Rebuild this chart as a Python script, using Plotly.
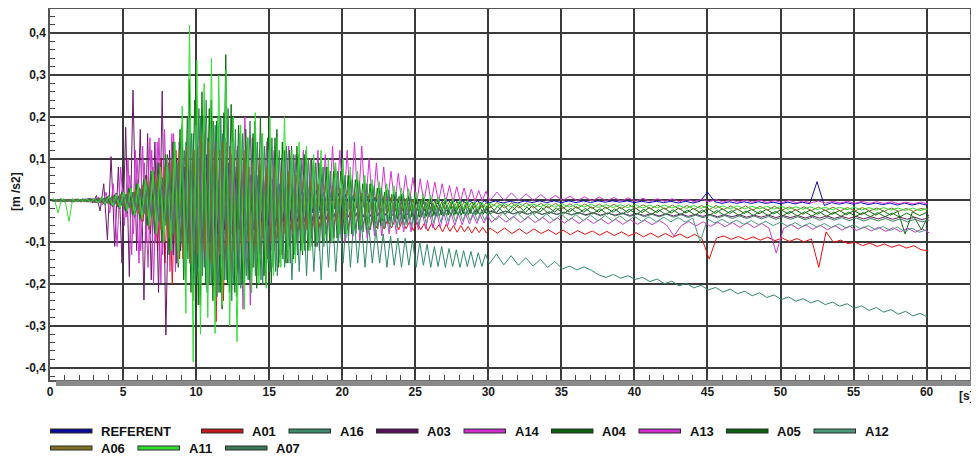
import numpy as np
import plotly.graph_objects as go

# sampling grid of the recorded traces [s]
t = np.concatenate([np.arange(0, 30, 0.25), np.arange(30, 60.001, 0.5)])
# start-of-sampling offset of each recorder [s]
sample_offset = [0.0, 0.12, 0.06, 0.18, 0.09, 0.03, 0.21, 0.15, 0.0, 0.1, 0.05, 0.19]

referent = [
    0, 0.003, -0.002, 0.004, -0.003, 0.002, -0.004, 0.003, -0.002, 0.004,
    -0.003, 0.005, -0.004, 0.006, -0.005, 0.008, -0.006, 0.01, -0.008, 0.012,
    -0.01, 0.015, -0.012, 0.02, -0.018, 0.025, -0.02, 0.03, -0.025, 0.035,
    -0.03, 0.04, -0.035, 0.05, -0.045, 0.06, -0.05, 0.08, -0.07, 0.09,
    -0.08, 0.1, -0.09, 0.11, -0.1, 0.09, -0.11, 0.1, -0.08, 0.09,
    -0.09, 0.08, -0.07, 0.07, -0.08, 0.06, -0.07, 0.06, -0.05, 0.05,
    -0.06, 0.05, -0.05, 0.04, -0.05, 0.04, -0.04, 0.035, -0.04, 0.03,
    -0.035, 0.03, -0.03, 0.025, -0.03, 0.02, -0.025, 0.02, -0.02, 0.018,
    -0.022, 0.015, -0.02, 0.012, -0.018, 0.01, -0.016, 0.01, -0.014, 0.008,
    -0.014, 0.006, -0.012, 0.006, -0.012, 0.004, -0.011, 0.004, -0.01, 0.003,
    -0.01, 0.002, -0.009, 0.002, -0.009, 0.001, -0.008, 0.001, -0.008, 0.0,
    -0.008, 0.0, -0.007, -0.001, -0.007, -0.001, -0.007, -0.001, -0.006, -0.001,
    -0.006, -0.001, -0.006, -0.002, -0.006, -0.001, -0.005, -0.001, -0.005, -0.001,
    -0.005, -0.001, -0.005, -0.001, -0.005, -0.001, -0.004, -0.001, -0.004, -0.001,
    -0.005, -0.002, -0.005, -0.002, -0.005, -0.002, -0.006, -0.002, -0.006, -0.002,
    0.02, -0.003, -0.007, -0.003, -0.007, -0.003, -0.007, -0.003, -0.007, -0.004,
    -0.008, -0.004, -0.008, -0.004, -0.008, 0.045, -0.012, -0.005, -0.009, -0.005,
    -0.009, -0.005, -0.01, -0.006, -0.01, -0.006, -0.011, -0.006, -0.011, -0.007,
    -0.011,
]

a01 = [
    0, -0.002, 0.002, -0.003, 0.002, -0.002, 0.003, -0.003, 0.002, -0.003,
    0.003, -0.004, 0.004, -0.005, 0.005, -0.006, 0.006, -0.008, 0.008, -0.01,
    0.01, -0.015, 0.02, -0.03, 0.03, -0.05, 0.06, -0.08, 0.07, -0.12,
    0.1, -0.15, 0.09, -0.2, 0.12, -0.14, 0.08, -0.12, 0.1, -0.15,
    0.13, -0.18, 0.16, -0.2, 0.19, -0.29, 0.12, -0.24, 0.14, -0.2,
    0.1, -0.17, 0.09, -0.15, 0.08, -0.16, 0.07, -0.13, 0.06, -0.14,
    0.05, -0.12, 0.04, -0.13, 0.03, -0.11, 0.02, -0.1, 0.01, -0.1,
    0.0, -0.09, -0.01, -0.08, -0.01, -0.08, -0.02, -0.075, -0.02, -0.07,
    -0.02, -0.07, -0.025, -0.068, -0.03, -0.065, -0.035, -0.07, -0.04, -0.066,
    -0.042, -0.068, -0.045, -0.066, -0.046, -0.07, -0.048, -0.068, -0.05, -0.072,
    -0.052, -0.07, -0.055, -0.073, -0.054, -0.071, -0.058, -0.075, -0.057, -0.074,
    -0.06, -0.076, -0.06, -0.075, -0.062, -0.078, -0.063, -0.077, -0.064, -0.078,
    -0.066, -0.078, -0.066, -0.079, -0.068, -0.08, -0.068, -0.079, -0.07, -0.081,
    -0.071, -0.082, -0.072, -0.081, -0.073, -0.083, -0.074, -0.084, -0.075, -0.085,
    -0.077, -0.087, -0.078, -0.088, -0.079, -0.088, -0.08, -0.09, -0.081, -0.091,
    -0.14, -0.09, -0.085, -0.093, -0.086, -0.094, -0.087, -0.095, -0.088, -0.096,
    -0.09, -0.098, -0.091, -0.099, -0.092, -0.16, -0.075, -0.1, -0.095, -0.103,
    -0.1, -0.108, -0.102, -0.11, -0.104, -0.112, -0.106, -0.114, -0.108, -0.118,
    -0.12,
]

a16 = [
    0, 0.002, -0.002, 0.002, -0.003, 0.002, -0.002, 0.003, -0.003, 0.002,
    -0.003, 0.003, -0.004, 0.004, -0.005, 0.006, -0.007, 0.008, -0.01, 0.01,
    -0.012, 0.014, -0.016, 0.02, -0.022, 0.025, -0.03, 0.03, -0.035, 0.04,
    -0.045, 0.05, -0.06, 0.07, -0.08, 0.09, -0.12, 0.14, -0.15, 0.16,
    -0.18, 0.2, -0.16, 0.15, -0.2, 0.18, -0.22, 0.16, -0.19, 0.13,
    -0.2, 0.12, -0.21, 0.1, -0.19, 0.11, -0.18, 0.08, -0.2, 0.06,
    -0.17, 0.07, -0.18, 0.05, -0.16, 0.04, -0.19, 0.03, -0.17, 0.02,
    -0.18, 0.01, -0.17, 0.0, -0.19, -0.01, -0.16, -0.02, -0.17, -0.03,
    -0.15, -0.03, -0.16, -0.04, -0.15, -0.05, -0.16, -0.06, -0.15, -0.07,
    -0.15, -0.08, -0.16, -0.085, -0.155, -0.09, -0.16, -0.09, -0.155, -0.095,
    -0.16, -0.1, -0.155, -0.105, -0.16, -0.11, -0.158, -0.11, -0.16, -0.115,
    -0.158, -0.118, -0.16, -0.12, -0.158, -0.122, -0.16, -0.125, -0.158, -0.128,
    -0.152, -0.128, -0.154, -0.132, -0.155, -0.137, -0.157, -0.141, -0.16, -0.146,
    -0.164, -0.157, -0.166, -0.159, -0.167, -0.178, -0.184, -0.177, -0.186, -0.18,
    -0.189, -0.184, -0.194, -0.188, -0.199, -0.193, -0.204, -0.198, -0.209, -0.203,
    -0.214, -0.208, -0.219, -0.212, -0.223, -0.217, -0.228, -0.221, -0.232, -0.226,
    -0.237, -0.231, -0.241, -0.235, -0.245, -0.239, -0.249, -0.243, -0.253, -0.247,
    -0.258, -0.252, -0.263, -0.256, -0.267, -0.261, -0.272, -0.265, -0.276, -0.27,
    -0.279,
]

a03 = [
    0, 0.002, -0.002, 0.003, -0.002, 0.002, -0.003, 0.003, -0.002, 0.003,
    0.004, -0.006, 0.012, -0.025, 0.04, -0.094, 0.105, -0.11, 0.08, -0.15,
    0.175, -0.182, 0.264, -0.12, 0.17, -0.238, 0.16, -0.19, 0.14, -0.22,
    0.262, -0.322, 0.12, -0.13, 0.1, -0.12, 0.08, -0.1, 0.07, -0.09,
    0.06, -0.09, 0.07, -0.1, 0.05, -0.08, 0.06, -0.07, 0.04, -0.08,
    0.05, -0.07, 0.04, -0.06, 0.03, -0.07, 0.04, -0.05, 0.02, -0.06,
    0.03, -0.06, 0.02, -0.05, 0.01, -0.05, 0.02, -0.05, 0.0, -0.05,
    0.0, -0.05, 0.0, -0.045, -0.005, -0.045, -0.005, -0.04, -0.01, -0.04,
    -0.01, -0.04, -0.012, -0.038, -0.012, -0.04, -0.014, -0.038, -0.015, -0.037,
    -0.016, -0.036, -0.017, -0.036, -0.018, -0.035, -0.018, -0.035, -0.02, -0.034,
    -0.02, -0.034, -0.021, -0.034, -0.022, -0.033, -0.022, -0.033, -0.023, -0.033,
    -0.023, -0.033, -0.024, -0.032, -0.024, -0.032, -0.025, -0.032, -0.025, -0.032,
    -0.026, -0.032, -0.026, -0.032, -0.027, -0.033, -0.027, -0.033, -0.028, -0.033,
    -0.028, -0.034, -0.029, -0.034, -0.029, -0.035, -0.03, -0.035, -0.03, -0.036,
    -0.031, -0.036, -0.031, -0.037, -0.032, -0.037, -0.032, -0.038, -0.033, -0.038,
    -0.033, -0.039, -0.034, -0.039, -0.034, -0.04, -0.035, -0.04, -0.035, -0.041,
    -0.036, -0.041, -0.036, -0.042, -0.037, -0.042, -0.037, -0.043, -0.038, -0.043,
    -0.038, -0.044, -0.039, -0.044, -0.039, -0.045, -0.04, -0.045, -0.04, -0.046,
    -0.041,
]

a14 = [
    0, 0.002, -0.002, 0.002, -0.002, 0.003, -0.002, 0.002, -0.003, 0.003,
    -0.003, 0.004, -0.006, 0.008, -0.01, 0.02, -0.03, 0.04, -0.11, 0.08,
    -0.06, 0.1, -0.13, 0.12, -0.15, 0.13, -0.1, 0.15, -0.2, 0.14,
    -0.197, 0.17, -0.12, 0.16, -0.17, 0.14, -0.12, 0.13, -0.1, 0.12,
    -0.12, 0.1, -0.14, 0.12, -0.1, 0.14, -0.12, 0.11, -0.1, 0.12,
    -0.1, 0.13, -0.08, 0.2, -0.12, 0.15, -0.1, 0.12, -0.09, 0.14,
    -0.08, 0.12, -0.07, 0.1, -0.06, 0.13, -0.07, 0.11, -0.05, 0.12,
    -0.05, 0.1, -0.06, 0.12, -0.05, 0.11, -0.04, 0.13, -0.04, 0.12,
    -0.03, 0.12, -0.03, 0.14, -0.02, 0.13, -0.02, 0.1, -0.02, 0.09,
    -0.015, 0.08, -0.015, 0.07, -0.01, 0.065, -0.01, 0.06, -0.008, 0.055,
    -0.008, 0.052, -0.006, 0.048, -0.006, 0.044, -0.005, 0.04, -0.004, 0.036,
    -0.004, 0.033, -0.003, 0.03, -0.002, 0.027, -0.002, 0.024, -0.001, 0.022,
    -0.001, 0.02, 0.0, 0.018, 0.0, 0.016, 0.0, 0.014, 0.0, 0.012,
    0.0, 0.01, -0.001, 0.009, -0.001, 0.008, -0.001, 0.007, -0.001, 0.006,
    -0.002, 0.005, -0.002, 0.004, -0.002, 0.004, -0.003, 0.003, -0.003, 0.003,
    -0.003, 0.002, -0.004, 0.002, -0.004, 0.001, -0.004, 0.001, -0.005, 0.0,
    -0.005, 0.0, -0.005, -0.001, -0.006, -0.001, -0.006, -0.002, -0.006, -0.002,
    -0.007, -0.002, -0.007, -0.003, -0.007, -0.003, -0.008, -0.004, -0.008, -0.004,
    -0.008,
]

a04 = [
    0, -0.002, 0.002, -0.003, 0.002, -0.002, 0.003, -0.002, 0.002, -0.003,
    0.003, -0.004, 0.005, -0.006, 0.008, -0.01, 0.012, -0.015, 0.018, -0.02,
    0.025, -0.03, 0.035, -0.04, 0.05, -0.05, 0.06, -0.07, 0.08, -0.08,
    0.09, -0.1, 0.11, -0.12, 0.14, -0.16, 0.18, -0.2, 0.29, -0.24,
    0.22, -0.25, 0.2, -0.22, 0.24, -0.2, 0.18, -0.26, 0.349, -0.22,
    0.2, -0.23, 0.18, -0.2, 0.15, -0.22, 0.19, -0.18, 0.16, -0.2,
    0.14, -0.16, 0.17, -0.14, 0.12, -0.15, 0.13, -0.12, 0.11, -0.13,
    0.12, -0.1, 0.1, -0.11, 0.09, -0.1, 0.08, -0.09, 0.09, -0.08,
    0.07, -0.08, 0.06, -0.07, 0.05, -0.07, 0.05, -0.06, 0.04, -0.06,
    0.03, -0.05, 0.025, -0.05, 0.02, -0.045, 0.015, -0.045, 0.01, -0.04,
    0.008, -0.04, 0.005, -0.038, 0.003, -0.036, 0.001, -0.035, 0.0, -0.034,
    -0.002, -0.033, -0.003, -0.032, -0.004, -0.031, -0.005, -0.031, -0.006, -0.03,
    -0.008, -0.03, -0.01, -0.029, -0.011, -0.029, -0.012, -0.028, -0.013, -0.028,
    -0.014, -0.028, -0.015, -0.028, -0.015, -0.028, -0.016, -0.028, -0.016, -0.029,
    -0.017, -0.029, -0.017, -0.029, -0.018, -0.03, -0.018, -0.03, -0.019, -0.03,
    -0.019, -0.031, -0.02, -0.031, -0.02, -0.031, -0.021, -0.032, -0.021, -0.032,
    -0.022, -0.032, -0.022, -0.033, -0.023, -0.033, -0.023, -0.033, -0.024, -0.034,
    -0.024, -0.034, -0.025, -0.035, -0.025, -0.035, -0.026, -0.08, -0.027, -0.036,
    -0.028,
]

a13 = [
    0, 0.002, -0.002, 0.002, -0.003, 0.002, -0.002, 0.003, -0.002, 0.002,
    -0.003, 0.004, -0.005, 0.006, -0.008, 0.01, -0.012, 0.015, -0.02, 0.03,
    -0.04, 0.06, -0.08, 0.1, -0.12, 0.09, -0.16, 0.12, -0.1, 0.15,
    -0.13, 0.1, -0.17, 0.16, -0.15, 0.13, -0.12, 0.15, -0.14, 0.12,
    -0.16, 0.14, -0.15, 0.12, -0.13, 0.1, -0.14, 0.13, -0.12, 0.11,
    -0.15, 0.1, -0.26, 0.12, -0.25, 0.1, -0.14, 0.08, -0.13, 0.1,
    -0.12, 0.08, -0.13, 0.07, -0.11, 0.09, -0.1, 0.06, -0.11, 0.07,
    -0.1, 0.05, -0.11, 0.06, -0.09, 0.04, -0.1, 0.05, -0.09, 0.03,
    -0.1, 0.03, -0.09, 0.02, -0.095, 0.01, -0.09, 0.0, -0.085, -0.005,
    -0.085, -0.01, -0.08, -0.015, -0.08, -0.018, -0.075, -0.02, -0.075, -0.022,
    -0.07, -0.024, -0.068, -0.026, -0.066, -0.028, -0.064, -0.03, -0.062, -0.031,
    -0.06, -0.032, -0.058, -0.033, -0.056, -0.034, -0.055, -0.035, -0.054, -0.036,
    -0.052, -0.037, -0.052, -0.038, -0.053, -0.039, -0.053, -0.04, -0.054, -0.041,
    -0.054, -0.042, -0.055, -0.043, -0.055, -0.044, -0.056, -0.045, -0.057, -0.046,
    -0.057, -0.047, -0.058, -0.048, -0.059, -0.085, -0.06, -0.05, -0.061, -0.051,
    -0.062, -0.052, -0.063, -0.053, -0.064, -0.054, -0.065, -0.055, -0.066, -0.126,
    -0.067, -0.057, -0.068, -0.058, -0.069, -0.059, -0.07, -0.06, -0.071, -0.061,
    -0.072, -0.063, -0.073, -0.064, -0.074, -0.065, -0.075, -0.066, -0.076, -0.068,
    -0.078,
]

a05 = [
    0, 0.002, -0.002, 0.003, -0.002, 0.002, -0.002, 0.003, -0.003, 0.002,
    -0.003, 0.004, -0.005, 0.006, -0.007, 0.009, -0.011, 0.013, -0.016, 0.02,
    -0.025, 0.03, -0.035, 0.04, -0.045, 0.05, -0.06, 0.07, -0.08, 0.09,
    -0.1, 0.11, -0.13, 0.14, -0.15, 0.17, -0.19, 0.2, -0.22, 0.24,
    -0.25, 0.26, -0.2, 0.22, -0.24, 0.19, -0.22, 0.21, -0.2, 0.23,
    -0.22, 0.18, -0.2, 0.17, -0.19, 0.16, -0.21, 0.2, -0.18, 0.15,
    -0.2, 0.15, -0.16, 0.14, -0.15, 0.12, -0.14, 0.13, -0.12, 0.11,
    -0.12, 0.1, -0.11, 0.09, -0.1, 0.08, -0.1, 0.07, -0.09, 0.07,
    -0.08, 0.06, -0.08, 0.05, -0.07, 0.04, -0.07, 0.04, -0.06, 0.03,
    -0.06, 0.02, -0.055, 0.015, -0.05, 0.01, -0.05, 0.005, -0.045, 0.002,
    -0.045, 0.0, -0.042, -0.002, -0.04, -0.004, -0.038, -0.006, -0.037, -0.008,
    -0.036, -0.009, -0.035, -0.01, -0.034, -0.011, -0.034, -0.012, -0.033, -0.013,
    -0.033, -0.014, -0.033, -0.015, -0.032, -0.016, -0.032, -0.017, -0.032, -0.018,
    -0.032, -0.019, -0.032, -0.019, -0.032, -0.02, -0.033, -0.02, -0.033, -0.021,
    -0.033, -0.021, -0.034, -0.022, -0.034, -0.022, -0.034, -0.023, -0.035, -0.023,
    -0.035, -0.024, -0.035, -0.024, -0.036, -0.025, -0.036, -0.025, -0.036, -0.026,
    -0.037, -0.026, -0.037, -0.027, -0.037, -0.027, -0.038, -0.028, -0.038, -0.028,
    -0.038, -0.029, -0.039, -0.029, -0.039, -0.03, -0.04, -0.03, -0.04, -0.07,
    -0.034,
]

a12 = [
    0, -0.002, 0.002, -0.002, 0.003, -0.002, 0.002, -0.003, 0.002, -0.002,
    0.003, -0.004, 0.004, -0.005, 0.006, -0.007, 0.008, -0.01, 0.012, -0.014,
    0.016, -0.02, 0.022, -0.025, 0.03, -0.035, 0.04, -0.045, 0.05, -0.055,
    0.06, -0.07, 0.08, -0.09, 0.1, -0.12, 0.14, -0.16, 0.2, -0.18,
    0.18, -0.2, 0.15, -0.22, 0.17, -0.18, 0.2, -0.16, 0.15, -0.2,
    0.14, -0.18, 0.16, -0.15, 0.12, -0.17, 0.13, -0.14, 0.15, -0.12,
    0.12, -0.14, 0.1, -0.15, 0.11, -0.12, 0.1, -0.13, 0.09, -0.12,
    0.08, -0.11, 0.07, -0.1, 0.07, -0.11, 0.06, -0.09, 0.05, -0.1,
    0.04, -0.09, 0.03, -0.085, 0.02, -0.08, 0.015, -0.08, 0.01, -0.075,
    0.005, -0.07, 0.0, -0.068, -0.005, -0.065, -0.008, -0.062, -0.01, -0.06,
    -0.012, -0.058, -0.014, -0.056, -0.016, -0.054, -0.018, -0.052, -0.02, -0.05,
    -0.022, -0.05, -0.024, -0.049, -0.025, -0.048, -0.026, -0.048, -0.027, -0.047,
    -0.028, -0.047, -0.029, -0.047, -0.03, -0.047, -0.031, -0.047, -0.032, -0.048,
    -0.033, -0.048, -0.034, -0.048, -0.035, -0.049, -0.036, -0.049, -0.037, -0.05,
    -0.038, -0.05, -0.039, -0.051, -0.04, -0.051, -0.041, -0.052, -0.042, -0.1,
    -0.044, -0.054, -0.045, -0.055, -0.047, -0.057, -0.048, -0.058, -0.05, -0.06,
    -0.052, -0.062, -0.053, -0.063, -0.054, -0.064, -0.055, -0.065, -0.056, -0.066,
    -0.058, -0.068, -0.06, -0.07, -0.062, -0.072, -0.064, -0.074, -0.066, -0.076,
    -0.07,
]

a06 = [
    0, 0.002, -0.002, 0.002, -0.002, 0.002, -0.003, 0.002, -0.002, 0.003,
    -0.003, 0.004, -0.004, 0.005, -0.006, 0.007, -0.008, 0.01, -0.012, 0.014,
    -0.016, 0.02, -0.024, 0.028, -0.032, 0.036, -0.04, 0.045, -0.05, 0.06,
    -0.07, 0.08, -0.09, 0.1, -0.11, 0.12, -0.14, 0.13, -0.15, 0.12,
    -0.13, 0.15, -0.12, 0.14, -0.15, 0.12, -0.13, 0.14, -0.11, 0.12,
    -0.12, 0.1, -0.11, 0.12, -0.1, 0.09, -0.11, 0.1, -0.09, 0.08,
    -0.1, 0.08, -0.09, 0.07, -0.08, 0.07, -0.08, 0.06, -0.07, 0.05,
    -0.07, 0.05, -0.06, 0.04, -0.06, 0.04, -0.05, 0.03, -0.05, 0.03,
    -0.045, 0.025, -0.04, 0.02, -0.04, 0.018, -0.035, 0.015, -0.035, 0.012,
    -0.03, 0.01, -0.03, 0.008, -0.028, 0.006, -0.026, 0.004, -0.025, 0.003,
    -0.024, 0.002, -0.023, 0.001, -0.022, 0.0, -0.021, -0.001, -0.02, -0.002,
    -0.02, -0.003, -0.019, -0.003, -0.019, -0.004, -0.018, -0.004, -0.018, -0.005,
    -0.018, -0.005, -0.018, -0.006, -0.018, -0.006, -0.018, -0.007, -0.018, -0.007,
    -0.019, -0.008, -0.019, -0.008, -0.019, -0.009, -0.019, -0.009, -0.02, -0.01,
    -0.02, -0.01, -0.02, -0.011, -0.021, -0.011, -0.021, -0.012, -0.021, -0.012,
    -0.022, -0.012, -0.022, -0.013, -0.022, -0.013, -0.023, -0.014, -0.023, -0.014,
    -0.023, -0.015, -0.024, -0.015, -0.024, -0.016, -0.024, -0.016, -0.025, -0.017,
    -0.025, -0.017, -0.025, -0.018, -0.026, -0.018, -0.026, -0.019, -0.026, -0.019,
    -0.022,
]

a11 = [
    0, 0.003, -0.03, 0.004, -0.003, -0.05, 0.004, -0.003, 0.003, -0.002,
    0.003, -0.004, 0.005, -0.006, 0.007, -0.008, 0.01, -0.012, 0.015, -0.018,
    0.02, -0.025, 0.03, -0.035, 0.04, -0.045, 0.05, -0.06, 0.07, -0.08,
    0.08, -0.1, 0.1, -0.12, 0.14, -0.15, 0.226, -0.27, 0.419, -0.386,
    0.335, -0.32, 0.28, -0.28, 0.34, -0.318, 0.3, -0.25, 0.313, -0.3,
    0.2, -0.338, 0.18, -0.26, 0.15, -0.22, 0.21, -0.2, 0.16, -0.21,
    0.2, -0.18, 0.15, -0.16, 0.2, -0.14, 0.12, -0.15, 0.14, -0.12,
    0.13, -0.12, 0.11, -0.1, 0.12, -0.09, 0.1, -0.1, 0.09, -0.08,
    0.1, -0.08, 0.08, -0.07, 0.07, -0.06, 0.06, -0.06, 0.05, -0.05,
    0.045, -0.045, 0.04, -0.04, 0.035, -0.035, 0.03, -0.032, 0.028, -0.03,
    0.02, -0.028, 0.016, -0.026, 0.012, -0.025, 0.009, -0.024, 0.006, -0.023,
    0.004, -0.022, 0.002, -0.021, 0.0, -0.02, -0.002, -0.019, -0.003, -0.018,
    -0.006, -0.014, -0.007, -0.015, -0.007, -0.015, -0.008, -0.015, -0.008, -0.016,
    -0.008, -0.016, -0.009, -0.016, -0.009, -0.017, -0.01, -0.017, -0.01, -0.017,
    -0.01, -0.018, -0.011, -0.018, -0.011, -0.018, -0.012, -0.019, -0.012, -0.019,
    -0.012, -0.019, -0.013, -0.02, -0.013, -0.02, -0.014, -0.02, -0.014, -0.021,
    -0.014, -0.021, -0.015, -0.021, -0.015, -0.022, -0.016, -0.022, -0.016, -0.022,
    -0.016, -0.023, -0.017, -0.023, -0.017, -0.023, -0.018, -0.024, -0.018, -0.024,
    -0.02,
]

a07 = [
    0, -0.002, 0.002, -0.002, 0.002, -0.003, 0.002, -0.002, 0.003, -0.002,
    0.003, -0.003, 0.004, -0.005, 0.006, -0.007, 0.008, -0.009, 0.011, -0.013,
    0.015, -0.018, 0.02, -0.024, 0.028, -0.032, 0.036, -0.04, 0.045, -0.05,
    0.055, -0.06, 0.07, -0.08, 0.09, -0.1, 0.12, -0.14, 0.16, -0.2,
    0.22, -0.18, 0.24, -0.2, 0.19, -0.23, 0.2, -0.19, 0.22, -0.24,
    0.17, -0.2, 0.16, -0.18, 0.19, -0.16, 0.14, -0.19, 0.13, -0.15,
    0.15, -0.17, 0.12, -0.14, 0.13, -0.15, 0.11, -0.13, 0.1, -0.12,
    0.1, -0.11, 0.09, -0.12, 0.08, -0.1, 0.07, -0.09, 0.07, -0.09,
    0.06, -0.085, 0.05, -0.08, 0.045, -0.075, 0.04, -0.07, 0.035, -0.068,
    0.03, -0.065, 0.025, -0.062, 0.02, -0.06, 0.015, -0.058, 0.01, -0.056,
    0.0, -0.04, -0.004, -0.039, -0.007, -0.038, -0.01, -0.037, -0.012, -0.036,
    -0.014, -0.035, -0.016, -0.035, -0.018, -0.034, -0.019, -0.034, -0.02, -0.033,
    -0.024, -0.031, -0.025, -0.032, -0.026, -0.033, -0.026, -0.034, -0.027, -0.034,
    -0.028, -0.035, -0.029, -0.036, -0.03, -0.037, -0.03, -0.037, -0.031, -0.038,
    -0.032, -0.039, -0.033, -0.039, -0.033, -0.04, -0.034, -0.041, -0.035, -0.041,
    -0.035, -0.042, -0.036, -0.043, -0.037, -0.043, -0.037, -0.044, -0.038, -0.045,
    -0.039, -0.045, -0.039, -0.046, -0.04, -0.047, -0.041, -0.047, -0.041, -0.048,
    -0.042, -0.049, -0.043, -0.049, -0.043, -0.05, -0.044, -0.051, -0.045, -0.051,
    -0.047,
]

series_names = ["REFERENT", "A01", "A16", "A03", "A14", "A04",
                "A13", "A05", "A12", "A06", "A11", "A07"]
series_values = [referent, a01, a16, a03, a14, a04,
                 a13, a05, a12, a06, a11, a07]
series_colors = ["#0a0ab4", "#e81010", "#2f8a64", "#6a1a6a", "#d632d6", "#0c6a0c",
                 "#c83ac8", "#127212", "#4c9c7c", "#7d7019", "#33dd33", "#3b7d5d"]
legend_colors = ["#0a0a9a", "#c41a1a", "#3c8a6c", "#5a105a", "#d030d0", "#0c620c",
                 "#d030d0", "#0c620c", "#4a9a7a", "#807020", "#2ee02e", "#3c7c5c"]

x_ticks = [0, 5, 10, 15, 20, 25, 30, 35, 40, 45, 50, 55, 60]
y_ticks = [-0.4, -0.3, -0.2, -0.1, 0.0, 0.1, 0.2, 0.3, 0.4]
y_ticktext = ["-0,4", "-0,3", "-0,2", "-0,1", "0,0", "0,1", "0,2", "0,3", "0,4"]

# page has an 8px body margin: figure is sized so the plot area lands at
# page pixels x 50..970, y 9..380
BODY = 8
W, H = 979 - BODY, 457 - BODY
PL, PR, PT, PB = 50, 970, 9, 380          # plot area in page pixels
ML, MT = PL - BODY, PT - BODY
MR, MB = W - (PR - BODY), H - (PB - BODY)


def px(xp):
    return (xp - PL) / (PR - PL)


def py(yp):
    return (PB - yp) / (PB - PT)


fig = go.Figure()
for name, vals, col, off in zip(series_names, series_values, series_colors, sample_offset):
    n = min(len(vals), len(t))
    xs = t[:n] + off
    fig.add_trace(go.Scatter(x=xs, y=vals[:n], mode="lines", name=name,
                             line=dict(color=col, width=1), showlegend=False))

font_fam = "Liberation Sans, Arial, sans-serif"
tickfont = dict(family=font_fam, size=12, color="#1a1a1a", weight="bold")

fig.update_layout(
    width=W, height=H,
    margin=dict(l=ML, r=MR, t=MT, b=MB, autoexpand=False),
    paper_bgcolor="white", plot_bgcolor="white",
    showlegend=False,
    xaxis=dict(range=[0, 62.97], tickmode="array", tickvals=x_ticks, automargin=False,
               showgrid=True, gridcolor="#3a3a3a", gridwidth=1.5,
               zeroline=False, showline=True, linecolor="#555555", linewidth=1.5,
               mirror=True, ticks="inside", ticklen=5, tickcolor="#444444",
               tickfont=tickfont,
               minor=dict(tickmode="linear", tick0=0, dtick=1, ticks="inside",
                          ticklen=5, tickcolor="#444444", showgrid=False)),
    yaxis=dict(range=[-0.4294, 0.458], tickmode="array", tickvals=y_ticks,
               ticktext=y_ticktext, automargin=False,
               showgrid=True, gridcolor="#3a3a3a", gridwidth=1.5,
               zeroline=False, showline=True, linecolor="#555555", linewidth=1.5,
               mirror=True, ticks="inside", ticklen=5, tickcolor="#444444",
               tickfont=tickfont,
               minor=dict(tickmode="linear", tick0=0, dtick=0.02, ticks="inside",
                          ticklen=5, tickcolor="#444444", showgrid=False)),
)

shapes = []
# frame shadow (bottom and right)
shapes.append(dict(type="rect", xref="paper", yref="paper", layer="above",
                   x0=px(56), x1=px(975), y0=py(386), y1=py(380.5),
                   fillcolor="#8a8a8a", line=dict(width=0)))
shapes.append(dict(type="rect", xref="paper", yref="paper", layer="above",
                   x0=px(970.5), x1=px(975), y0=py(386), y1=py(15),
                   fillcolor="#8a8a8a", line=dict(width=0)))

annotations = []
annotations.append(dict(text="[m /s2]", xref="paper", yref="paper",
                        x=px(16), y=py(192), textangle=-90, showarrow=False,
                        font=dict(family=font_fam, size=12, color="#1a1a1a", weight="bold"),
                        xanchor="center", yanchor="middle"))
annotations.append(dict(text="[s]", xref="paper", yref="paper",
                        x=px(966), y=py(396), showarrow=False,
                        font=dict(family=font_fam, size=12, color="#1a1a1a", weight="bold"),
                        xanchor="center", yanchor="middle"))

# legend drawn manually: two rows
legend_x = [50, 201, 288.5, 376, 463.5, 551, 638.5, 726, 813.5, 50, 137.5, 225]
legend_y = [431] * 9 + [448] * 3
for name, col, x0, yl in zip(series_names, legend_colors, legend_x, legend_y):
    shapes.append(dict(type="line", xref="paper", yref="paper", layer="above",
                       x0=px(x0), x1=px(x0 + 42.5), y0=py(yl), y1=py(yl),
                       line=dict(color="#2a2a2a", width=5)))
    shapes.append(dict(type="line", xref="paper", yref="paper", layer="above",
                       x0=px(x0 + 1), x1=px(x0 + 41.5), y0=py(yl), y1=py(yl),
                       line=dict(color=col, width=3)))
    annotations.append(dict(text=name, xref="paper", yref="paper",
                            x=px(x0 + 49), y=py(yl), showarrow=False,
                            xanchor="left", yanchor="middle",
                            font=dict(family=font_fam, size=13, color="#111111", weight="bold")))

fig.update_layout(shapes=shapes, annotations=annotations)
fig.write_html("out.html")
